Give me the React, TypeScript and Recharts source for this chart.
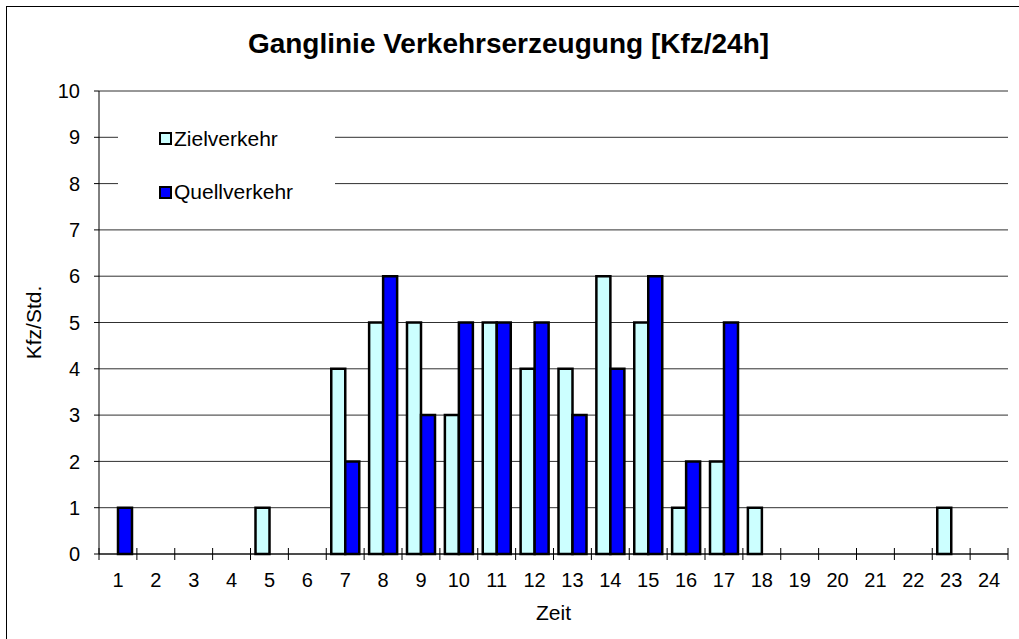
import React from 'react';
import { BarChart, Bar, XAxis, YAxis, CartesianGrid, Legend } from 'recharts';

const hours = ['1', '2', '3', '4', '5', '6', '7', '8', '9', '10', '11', '12', '13', '14', '15', '16', '17', '18', '19', '20', '21', '22', '23', '24'];
const zielverkehr = [0, 0, 0, 0, 1, 0, 4, 5, 5, 3, 5, 4, 4, 6, 5, 1, 2, 1, 0, 0, 0, 0, 1, 0];
const quellverkehr = [1, 0, 0, 0, 0, 0, 2, 6, 3, 5, 5, 5, 3, 4, 6, 2, 5, 0, 0, 0, 0, 0, 0, 0];
const yTicks = [0, 1, 2, 3, 4, 5, 6, 7, 8, 9, 10];
const seriesNames = ['Zielverkehr', 'Quellverkehr'];

const data = hours.map((h, i) => ({ zeit: h, ziel: zielverkehr[i], quell: quellverkehr[i] }));

const W = 1019;
const H = 639;
const M = { top: 91, right: 11, bottom: 10, left: 20 };
const Y_W = 79;
const BAND = (W - M.left - Y_W - M.right) / hours.length;
const FONT = '"Liberation Sans", Arial, sans-serif';

// ticks sit on the category boundaries, labels in the middle
const XTick = (props: any) => {
  const { x, y, payload, index } = props;
  return (
    <g>
      <line x1={x - BAND / 2} x2={x - BAND / 2} y1={y - 6} y2={y + 6} stroke="#000" />
      {index === hours.length - 1 && (
        <line x1={x + BAND / 2} x2={x + BAND / 2} y1={y - 6} y2={y + 6} stroke="#000" />
      )}
      <text x={x} y={y + 26} textAnchor="middle" dominantBaseline="central" fontSize={20} fill="#000" fontFamily={FONT}>
        {payload.value}
      </text>
    </g>
  );
};

const LegendBox = (props: any) => {
  const items = seriesNames
    .map((n) => (props.payload || []).find((p: any) => p.value === n))
    .filter(Boolean);
  return (
    <svg width={217} height={92} style={{ display: 'block' }}>
      {items.map((p: any, i: number) => (
        <g key={p.value}>
          <rect x={42} y={20 + i * 54} width={11} height={11} fill={p.color} stroke="#000" strokeWidth={2} />
          <text x={56} y={33 + i * 53} fontSize={21} fill="#000" fontFamily={FONT}>{p.value}</text>
        </g>
      ))}
    </svg>
  );
};

export default function App() {
  return (
    <div style={{ position: 'absolute', left: 0, top: 0, width: W, height: H, background: '#fff', fontFamily: FONT, overflow: 'hidden' }}>
      <div style={{ position: 'absolute', left: 6, top: 6, width: W, height: H, borderLeft: '1px solid #000', borderTop: '1px solid #000' }} />
      <div style={{ position: 'absolute', left: 0, top: 30, width: W - 2, textAlign: 'center', fontSize: 28, lineHeight: '27px', fontWeight: 'bold', color: '#000' }}>
        Ganglinie Verkehrserzeugung [Kfz/24h]
      </div>
      <BarChart width={W} height={H} data={data} margin={M} barGap={0} barCategoryGap={5}>
        <CartesianGrid yAxisId="l" vertical={false} stroke="#303030" />
        <XAxis
          dataKey="zeit"
          height={75}
          tickLine={false}
          tickSize={0}
          tickMargin={0}
          axisLine={{ stroke: '#000' }}
          tick={<XTick />}
          interval={0}
          label={(p: any) => {
            const vb = p.viewBox;
            return (
              <text x={vb.x + vb.width / 2} y={vb.y + 58} textAnchor="middle" dominantBaseline="central" fontSize={21} fill="#000" fontFamily={FONT}>
                Zeit
              </text>
            );
          }}
        />
        <YAxis
          yAxisId="l"
          width={Y_W}
          domain={[0, 10]}
          ticks={yTicks}
          interval={0}
          tickSize={5}
          tickMargin={14}
          tickLine={{ stroke: '#000' }}
          axisLine={{ stroke: '#000' }}
          tick={{ fontSize: 20, fill: '#000', fontFamily: FONT }}
          label={(p: any) => {
            const vb = p.viewBox;
            const cx = 33;
            const cy = vb.y + vb.height / 2;
            return (
              <text x={cx} y={cy} transform={`rotate(-90 ${cx} ${cy})`} textAnchor="middle" dominantBaseline="central" fontSize={21} fill="#000" fontFamily={FONT}>
                Kfz/Std.
              </text>
            );
          }}
        />
        <YAxis yAxisId="r" orientation="right" width={0} domain={[0, 10]} tick={false} tickLine={false} axisLine={{ stroke: '#000' }} />
        <Legend
          layout="vertical"
          align="center"
          verticalAlign="middle"
          content={<LegendBox />}
          wrapperStyle={{ position: 'absolute', left: 118, top: 113, width: 217, height: 92, background: '#fff' }}
        />
        <Bar yAxisId="l" dataKey="ziel" name="Zielverkehr" fill="#CCFFFF" stroke="#000" strokeWidth={2.5} isAnimationActive={false} />
        <Bar yAxisId="l" dataKey="quell" name="Quellverkehr" fill="#0000FF" stroke="#000" strokeWidth={2.5} isAnimationActive={false} />
      </BarChart>
    </div>
  );
}
